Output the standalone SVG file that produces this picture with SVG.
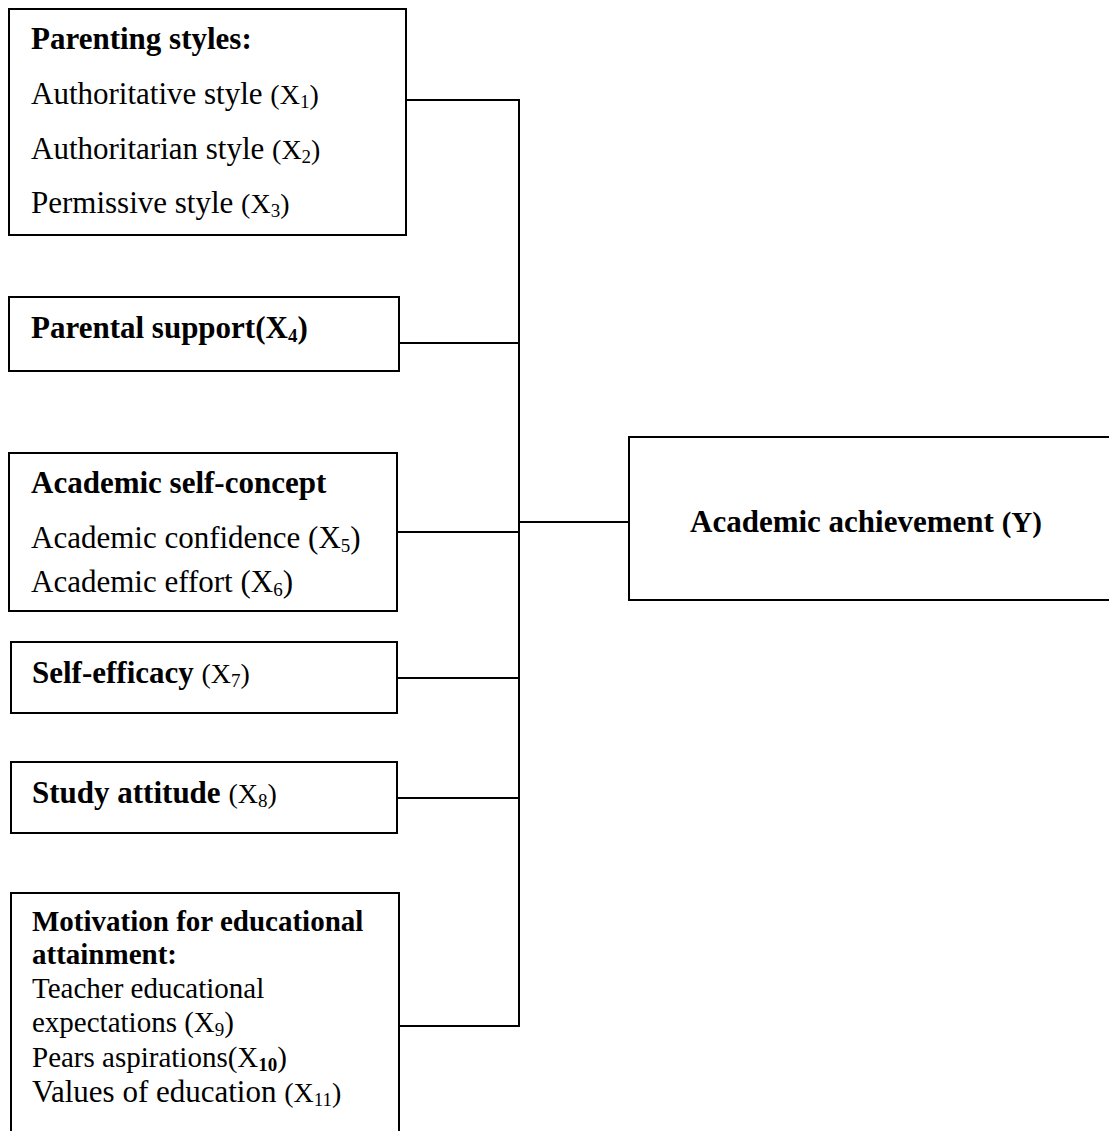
<svg xmlns="http://www.w3.org/2000/svg" width="1109" height="1131" viewBox="0 0 1109 1131">
<style>
  .box { fill: #ffffff; stroke: #000000; stroke-width: 2; }
  .conn { fill: none; stroke: #000000; stroke-width: 2; }
  text { font-family: "Liberation Serif", "Times New Roman", serif; font-size: 31px; fill: #000000; }
  .b { font-weight: bold; }
  .s27 { font-size: 28px; }
  .s29 { font-size: 29px; }
  .sub { font-size: 19px; }
</style>
<rect width="1109" height="1131" fill="#ffffff"/>

<g id="connectors">
  <path class="conn" d="M406,100 H519 V1026 H399"/>
  <path class="conn" d="M399,343 H519"/>
  <path class="conn" d="M397,532 H519"/>
  <path class="conn" d="M519,522 H629"/>
  <path class="conn" d="M397,678 H519"/>
  <path class="conn" d="M397,798 H519"/>
</g>

<g id="parenting-styles">
  <rect class="box" x="9" y="9" width="397" height="226"/>
  <text x="31" y="49" class="b">Parenting styles:</text>
  <text x="31" y="104">Authoritative style <tspan class="s27">(X<tspan class="sub" dy="4">1</tspan><tspan dy="-4">)</tspan></tspan></text>
  <text x="31" y="159">Authoritarian style <tspan class="s27">(X<tspan class="sub" dy="4">2</tspan><tspan dy="-4">)</tspan></tspan></text>
  <text x="31" y="213">Permissive style <tspan class="s27">(X<tspan class="sub" dy="4">3</tspan><tspan dy="-4">)</tspan></tspan></text>
</g>

<g id="parental-support">
  <rect class="box" x="9" y="297" width="390" height="74"/>
  <text x="31" y="338" class="b">Parental support(X<tspan class="sub" dy="4">4</tspan><tspan dy="-4">)</tspan></text>
</g>

<g id="academic-self-concept">
  <rect class="box" x="9" y="453" width="388" height="158"/>
  <text x="31" y="493" class="b">Academic self-concept</text>
  <text x="31" y="548">Academic confidence (X<tspan class="sub" dy="4">5</tspan><tspan dy="-4">)</tspan></text>
  <text x="31" y="592">Academic effort (X<tspan class="sub" dy="4">6</tspan><tspan dy="-4">)</tspan></text>
</g>

<g id="self-efficacy">
  <rect class="box" x="11" y="642" width="386" height="71"/>
  <text x="32" y="683"><tspan class="b">Self-efficacy</tspan> <tspan class="s27">(X<tspan class="sub" dy="4">7</tspan><tspan dy="-4">)</tspan></tspan></text>
</g>

<g id="study-attitude">
  <rect class="box" x="11" y="762" width="386" height="71"/>
  <text x="32" y="803"><tspan class="b">Study attitude</tspan> <tspan class="s27">(X<tspan class="sub" dy="4">8</tspan><tspan dy="-4">)</tspan></tspan></text>
</g>

<g id="motivation">
  <rect class="box" x="11" y="893" width="388" height="260"/>
  <text x="32" y="931" class="b s29">Motivation for educational</text>
  <text x="32" y="964" class="b s29">attainment:</text>
  <text x="32" y="998" class="s29">Teacher educational</text>
  <text x="32" y="1032" class="s29">expectations (X<tspan class="sub" dy="4">9</tspan><tspan dy="-4">)</tspan></text>
  <text x="32" y="1067" class="s29">Pears aspirations(X<tspan class="sub b" dy="4">10</tspan><tspan dy="-4">)</tspan></text>
  <text x="32" y="1102">Values of education <tspan class="s27">(X<tspan class="sub" dy="4">11</tspan><tspan dy="-4">)</tspan></tspan></text>
</g>

<g id="academic-achievement">
  <rect class="box" x="629" y="437" width="490" height="163"/>
  <text x="690" y="532" class="b">Academic achievement <tspan class="s29">(Y)</tspan></text>
</g>
</svg>
